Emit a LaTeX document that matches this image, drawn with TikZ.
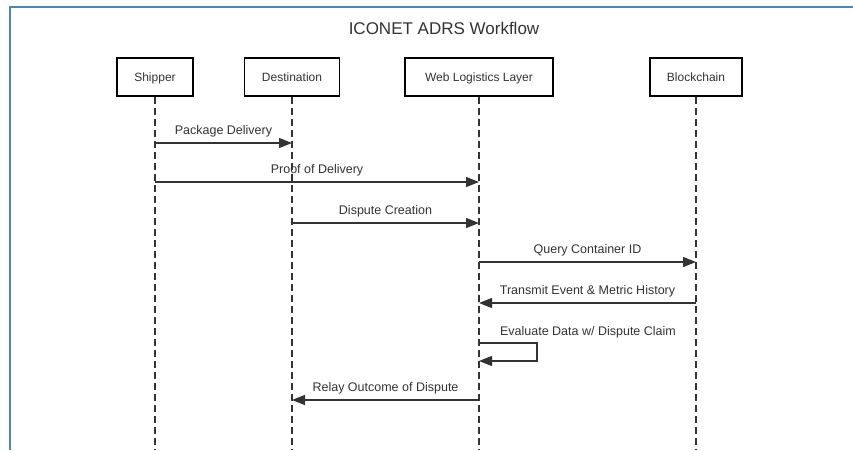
\documentclass[tikz,border=0pt]{standalone}
\usepackage{fontspec}
\setmainfont{Liberation Sans}
\usetikzlibrary{arrows.meta}
\definecolor{frameblue}{HTML}{4F81BD}
\definecolor{linegray}{HTML}{333333}
\tikzset{
  actor/.style={draw=black, line width=1.8pt, minimum height=38pt, inner sep=0pt, text height=10pt, text depth=1pt, font=\fontsize{12}{14}\selectfont, text=black!80},
  lifeline/.style={draw=linegray, line width=1.2pt, dash pattern=on 7pt off 4pt},
  msg/.style={draw=linegray, line width=1.4pt, -{Triangle[length=13pt,width=10pt]}},
  msglabel/.style={font=\fontsize{12.5}{14}\selectfont, text=black!80, inner sep=0pt},
}
\begin{document}
\begin{tikzpicture}[x=1pt,y=-1pt]
\useasboundingbox (0,0) rectangle (853,450);
\fill[white] (0,0) rectangle (853,450);
% frame
\draw[frameblue, line width=2pt] (10,450) -- (10,7) -- (853,7);
% title
\node[font=\fontsize{17}{20}\selectfont, text=black!80] (title) at (444,28) {ICONET ADRS Workflow};
% actors
\node[actor, minimum width=76pt] (S) at (155,77) {Shipper};
\node[actor, minimum width=95pt] (D) at (292,77) {Destination};
\node[actor, minimum width=148pt] (W) at (479,77) {Web Logistics Layer};
\node[actor, minimum width=92pt] (B) at (696,77) {Blockchain};
% lifeline ends
\coordinate (Se) at (155,450);
\coordinate (De) at (292,450);
\coordinate (We) at (479,450);
\coordinate (Be) at (696,450);
\draw[lifeline] (S.south) -- (Se);
\draw[lifeline] (D.south) -- (De);
\draw[lifeline] (W.south) -- (We);
\draw[lifeline] (B.south) -- (Be);
% message points
\coordinate (m1a) at (155,143); \coordinate (m1b) at (292,143);
\coordinate (m2a) at (155,182); \coordinate (m2b) at (479,182);
\coordinate (m3a) at (292,223); \coordinate (m3b) at (479,223);
\coordinate (m4a) at (479,262); \coordinate (m4b) at (696,262);
\coordinate (m5a) at (696,303); \coordinate (m5b) at (479,303);
\coordinate (m6a) at (479,343); \coordinate (m6r) at (537,343); \coordinate (m6s) at (537,361); \coordinate (m6b) at (479,361);
\coordinate (m7a) at (479,400); \coordinate (m7b) at (292,400);
% messages
\draw[msg] (m1a) -- node[msglabel, above=5pt] (l1) {Package Delivery} (m1b);
\draw[msg] (m2a) -- node[msglabel, above=5pt] (l2) {Proof of Delivery} (m2b);
\draw[msg] (m3a) -- node[msglabel, above=5pt] (l3) {Dispute Creation} (m3b);
\draw[msg] (m4a) -- node[msglabel, above=5pt] (l4) {Query Container ID} (m4b);
\draw[msg] (m5a) -- node[msglabel, above=5pt] (l5) {Transmit Event \& Metric History} (m5b);
\draw[msg] (m6a) -- (m6r) -- (m6s) -- (m6b);
\node[msglabel] (l6) at (588,332) {Evaluate Data w/ Dispute Claim};
\draw[msg] (m7a) -- node[msglabel, above=5pt] (l7) {Relay Outcome of Dispute} (m7b);
\end{tikzpicture}
\end{document}
